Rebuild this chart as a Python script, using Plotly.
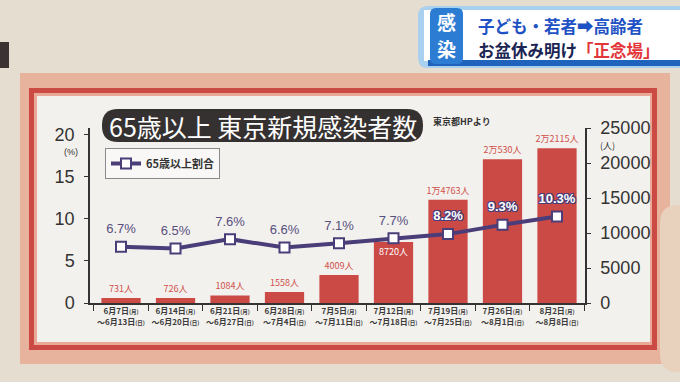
import plotly.graph_objects as go

# ---------------- data ----------------
week_start = ["6月7日", "6月14日", "6月21日", "6月28日", "7月5日", "7月12日", "7月19日", "7月26日", "8月2日"]
week_end = ["6月13日", "6月20日", "6月27日", "7月4日", "7月11日", "7月18日", "7月25日", "8月1日", "8月8日"]
cases = [731, 726, 1084, 1558, 4009, 8720, 14763, 20530, 22115]
share_pct = [6.7, 6.5, 7.6, 6.6, 7.1, 7.7, 8.2, 9.3, 10.3]
left_ticks = [0, 5, 10, 15, 20]
right_ticks = [0, 5000, 10000, 15000, 20000, 25000]

# ---------------- geometry helpers (pixel -> paper) ----------------
W, H = 680, 382
PL, PR, PT, PB = 90, 585, 128, 303


def px(x):
    return (x - PL) / (PR - PL)


def py(y):
    return (PB - y) / (PB - PT)


def rrect_path(x0, y0, x1, y1, r):
    rx = r / (PR - PL)
    ry = r / (PB - PT)
    X0, X1, Y0, Y1 = px(x0), px(x1), py(y0), py(y1)  # Y0 top (larger)
    return (f"M {X0+rx},{Y0} L {X1-rx},{Y0} Q {X1},{Y0} {X1},{Y0-ry} "
            f"L {X1},{Y1+ry} Q {X1},{Y1} {X1-rx},{Y1} L {X0+rx},{Y1} "
            f"Q {X0},{Y1} {X0},{Y1+ry} L {X0},{Y0-ry} Q {X0},{Y0} {X0+rx},{Y0} Z")


def rect(x0, y0, x1, y1, fill, line=None, lw=0):
    return dict(type="rect", xref="paper", yref="paper", layer="below",
                x0=px(x0), x1=px(x1), y0=py(y1), y1=py(y0),
                fillcolor=fill, line=dict(color=line or fill, width=lw))


def path(x0, y0, x1, y1, r, fill, layer="below", line=None, lw=0):
    return dict(type="path", xref="paper", yref="paper", layer=layer,
                path=rrect_path(x0, y0, x1, y1, r), fillcolor=fill,
                line=dict(color=line or fill, width=lw))


def ann(x, y, text, size, color, family="Noto Sans CJK JP", xanchor="center", weight="normal",
        align="center"):
    return dict(xref="paper", yref="paper", x=px(x), y=py(y), text=text, showarrow=False,
                xanchor=xanchor, yanchor="middle", align=align, borderpad=0,
                font=dict(size=size, color=color, family=family, weight=weight))


# ---------------- derived labels ----------------
def fmt_cases(v):
    if v >= 10000:
        return f"{v // 10000}万{v % 10000}人"
    return f"{v}人"


bar_labels = [fmt_cases(v) for v in cases]
bar_pos = ["inside" if 6000 < v < 10000 else "outside" for v in cases]
pct_labels = [f"{v}%" for v in share_pct]
sm = "<span style='font-size:5.5px'>"
tick_text = [f"{s}{sm}(月)</span><br>～{e}{sm}(日)</span>" for s, e in zip(week_start, week_end)]

LINE_C = "#4a3d78"
BAR_C = "#cc4a46"

fig = go.Figure()

fig.add_trace(go.Bar(
    x=week_start, y=cases, yaxis="y", marker=dict(color=BAR_C, line=dict(width=0)),
    width=0.72, text=bar_labels, textposition=bar_pos,
    insidetextanchor="end", constraintext="none", cliponaxis=False,
    outsidetextfont=dict(size=9, color="#d0504c", family="Noto Sans CJK JP"),
    insidetextfont=dict(size=9, color="white", family="Noto Sans CJK JP"),
    showlegend=False, hoverinfo="skip"))

fig.add_trace(go.Scatter(
    x=week_start, y=share_pct, yaxis="y2", mode="lines+markers", name="65歳以上割合",
    line=dict(color=LINE_C, width=4),
    marker=dict(symbol="square", size=10, color="white", line=dict(color=LINE_C, width=2)),
    cliponaxis=False))

n_plain = 6
ghost = dict(size=15, opacity=0)
fig.add_trace(go.Scatter(
    x=week_start[:n_plain], y=share_pct[:n_plain], yaxis="y2", mode="markers+text",
    marker=ghost, text=pct_labels[:n_plain], textposition="top center",
    textfont=dict(size=13, color="#574f7e", family="Liberation Sans"),
    showlegend=False, cliponaxis=False, hoverinfo="skip"))

outline = ", ".join(f"{dx}px {dy}px 0 {LINE_C}" for dx in (-1, 0, 1) for dy in (-1, 0, 1) if dx or dy)
fig.add_trace(go.Scatter(
    x=week_start[n_plain:], y=share_pct[n_plain:], yaxis="y2", mode="markers+text",
    marker=ghost, text=pct_labels[n_plain:], textposition="top center",
    textfont=dict(size=13, color="white", family="Liberation Sans", weight="bold", shadow=outline),
    showlegend=False, cliponaxis=False, hoverinfo="skip"))

shapes = [
    # board
    rect(20, 73, 670, 364, "#e8b39c"),
    rect(29, 88, 657, 350, "#cb4a44"),
    rect(34, 93, 652, 345, "#e9a996"),
    rect(37, 96, 650, 342, "#f3f1ed"),
    # hand on right
    path(660, 205, 700, 372, 18, "#e9d2bd"),
    # dark object at left edge
    rect(0, 42, 9, 68, "#3b3333"),
    # top-right banner
    path(418, 6, 700, 68, 10, "#a9d0ee"),
    rect(424, 10, 690, 61, "#ffffff"),
    rect(428, 60, 690, 66, "#1f63bd"),
    path(430, 8, 463, 64, 6, "#2c7cd3"),
    # title pill
    path(102, 109, 423, 142, 16, "#353130", layer="above"),
]

annotations = [
    ann(262.5, 126, "65歳以上 東京新規感染者数", 25, "white"),
    ann(462, 121, "東京都HPより", 9, "#333333", weight="bold"),
    ann(71, 152, "(%)", 9, "#333333", family="Liberation Sans"),
    ann(607, 145, "(人)", 9, "#333333"),
    ann(446.5, 21, "感", 19, "white", weight="bold"),
    ann(446.5, 49, "染", 19, "white", weight="bold"),
    ann(477, 25.5, "子ども・若者➡高齢者", 16.5, "#1f52c4", weight="bold", xanchor="left"),
    ann(477, 50, "お盆休み明け<span style='color:#e2363a'>「正念場」</span>",
        16.5, "#1b2553", weight="bold", xanchor="left"),
]

axis_font = dict(family="Liberation Sans", size=18, color="#333333")

fig.update_layout(
    width=W, height=H, autosize=False,
    margin=dict(l=PL, r=W - PR, t=PT, b=H - PB, pad=0),
    paper_bgcolor="#e6ddd1", plot_bgcolor="rgba(0,0,0,0)",
    shapes=shapes, annotations=annotations,
    xaxis=dict(type="category", categoryorder="array", categoryarray=week_start,
               range=[-0.569, 8.514], tickvals=week_start, ticktext=tick_text,
               tickson="boundaries", ticks="outside", ticklen=6, tickcolor="#333333",
               showline=True, linecolor="#333333", linewidth=1.5, showgrid=False,
               tickfont=dict(family="Noto Sans CJK JP", size=8, color="#3c3c3c", weight="bold"),
               tickangle=0, fixedrange=True),
    yaxis=dict(range=[0, 25000], tickvals=right_ticks, ticktext=[str(v) for v in right_ticks],
               side="right",
               showline=True, linecolor="#333333", linewidth=1.5, ticks="outside",
               ticklen=4, tickcolor="#333333", showgrid=False, zeroline=False,
               tickfont=axis_font, ticklabelstandoff=6),
    yaxis2=dict(range=[0, 20.83], tickvals=left_ticks, side="left", overlaying="y",
                showline=True, linecolor="#333333", linewidth=1.5, ticks="outside",
                ticklen=4, tickcolor="#333333", showgrid=False, zeroline=False,
                tickfont=axis_font, ticklabelstandoff=6),
    legend=dict(x=px(105), y=py(148), xanchor="left", yanchor="top",
                bgcolor="rgba(255,255,255,0.5)", bordercolor="#8a8a8a", borderwidth=1,
                font=dict(family="Noto Sans CJK JP", size=11, color="#333333", weight="bold"),
                itemwidth=30, tracegroupgap=0),
    showlegend=True,
)

fig.write_html("out.html", config={"displayModeBar": False},
               post_script="document.body.style.margin='0';document.body.style.background='#e6ddd1';")
